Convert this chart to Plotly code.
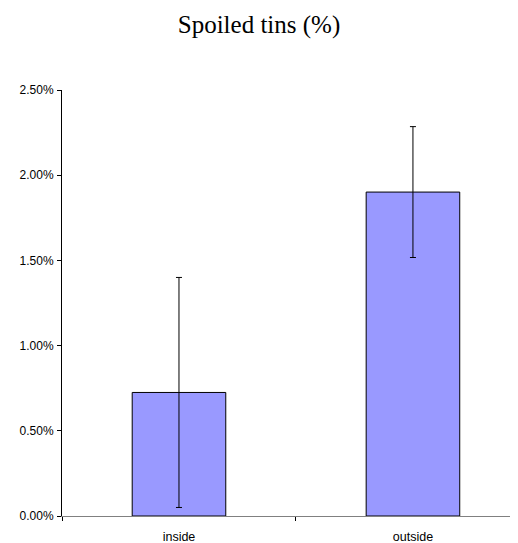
import plotly.graph_objects as go

categories = ["inside", "outside"]
values = [0.00725, 0.01901]
errors = [0.00675, 0.00384]
y_tickvals = [0, 0.005, 0.01, 0.015, 0.02, 0.025]

# The page body has an 8px default margin, so the figure is 8px smaller
W, H = 510, 535

fig = go.Figure()
fig.add_trace(go.Bar(
    x=categories, y=values,
    width=0.40,
    marker=dict(color="#9999FF", line=dict(color="#000000", width=1)),
    error_y=dict(type="data", array=errors, visible=True,
                 color="#000000", thickness=1, width=3),
))

fig.update_layout(
    width=W, height=H,
    paper_bgcolor="white", plot_bgcolor="white",
    margin=dict(l=54, r=0, t=82, b=27, autoexpand=False),
    showlegend=False,
    title=dict(text="Spoiled tins (%)", x=(259 - 8) / W, xanchor="center",
               y=1 - 16 / H, yanchor="middle",
               font=dict(family="Liberation Serif, Times New Roman, serif", size=25, color="black")),
    font=dict(family="Liberation Sans, Arial, sans-serif", size=12, color="black"),
)
fig.update_xaxes(
    type="category", range=[-0.5, 1.449],
    showline=True, linecolor="#808080", linewidth=1,
    ticks="outside", tickson="boundaries", ticklen=4, tickcolor="#000000",
    ticklabelstandoff=9,
    showgrid=False, zeroline=False,
    tickfont=dict(size=12.5, color="black"),
)
fig.update_yaxes(
    range=[0, 0.025], tickvals=y_tickvals, tickformat=".2%",
    showline=True, linecolor="#000000", linewidth=1,
    ticks="outside", ticklen=4, tickcolor="#000000",
    ticklabelstandoff=1,
    showgrid=False, zeroline=False,
    tickfont=dict(size=12, color="black"),
)

fig.write_html("out.html")
